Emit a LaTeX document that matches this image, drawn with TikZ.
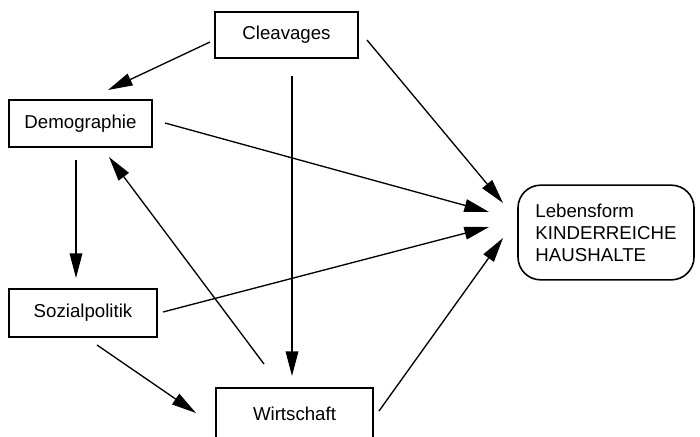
\documentclass[tikz,border=0pt]{standalone}
\usepackage{fontspec}
\setmainfont{Liberation Sans}
\usetikzlibrary{arrows.meta}
\begin{document}
\begin{tikzpicture}[x=0.75pt,y=-0.75pt,
  box/.style={draw,line width=1.2pt,rectangle,inner sep=0pt,font=\fontsize{14}{16.5}\selectfont},
  roundbox/.style={draw,line width=1.2pt,rounded corners=17pt,inner sep=0pt,align=left,font=\fontsize{14}{16.5}\selectfont},
  arr/.style={line width=1pt,-{Triangle[length=18.5pt,width=9.5pt]}}]
\useasboundingbox (0,0) rectangle (700,436);
\clip (0,0) rectangle (700,436);
\node[box,minimum width=107pt,minimum height=34.5pt] (cl) at (286.5,35) {Cleavages};
\node[box,minimum width=107pt,minimum height=35pt] (de) at (80.5,123.5) {Demographie};
\node[box,minimum width=111pt,minimum height=36pt] (so) at (83,313) {Sozialpolitik};
\node[box,minimum width=118pt,minimum height=39pt] (wi) at (294.5,414) {Wirtschaft};
\node[roundbox,minimum width=132pt,minimum height=71pt] (le) at (606,232.5) {Lebensform\\KINDERREICHE\\HAUSHALTE};
% arrow end points
\coordinate (a1s) at (210,42);  \coordinate (a1e) at (108,90);
\coordinate (a2s) at (292,76);  \coordinate (a2e) at (292,376);
\coordinate (a3s) at (367,40);  \coordinate (a3e) at (503,203);
\coordinate (a4s) at (165,123); \coordinate (a4e) at (489,212);
\coordinate (a5s) at (76,160);  \coordinate (a5e) at (76,278);
\coordinate (a6s) at (264,364); \coordinate (a6e) at (109,157);
\coordinate (a7s) at (163,312); \coordinate (a7e) at (489,227);
\coordinate (a8s) at (97,345);  \coordinate (a8e) at (196,413);
\coordinate (a9s) at (379,411); \coordinate (a9e) at (503,238);
\draw[arr] (a1s) -- (a1e);
\draw[arr] (a2s) -- (a2e);
\draw[arr] (a3s) -- (a3e);
\draw[arr] (a4s) -- (a4e);
\draw[arr] (a5s) -- (a5e);
\draw[arr] (a6s) -- (a6e);
\draw[arr] (a7s) -- (a7e);
\draw[arr] (a8s) -- (a8e);
\draw[arr] (a9s) -- (a9e);
\end{tikzpicture}
\end{document}
